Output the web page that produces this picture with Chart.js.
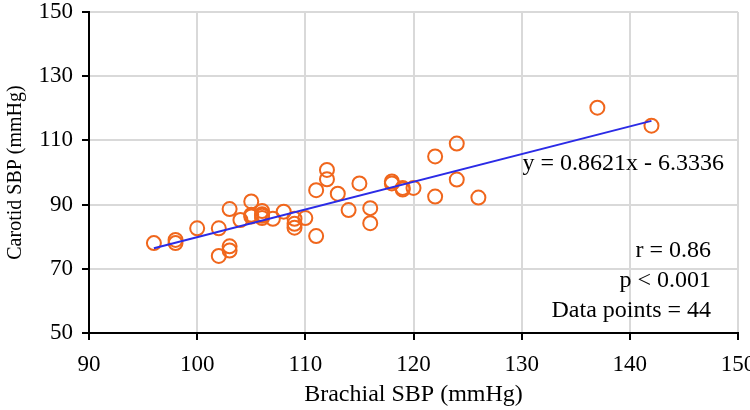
<!DOCTYPE html>
<html>
<head>
<meta charset="utf-8">
<script src="https://cdn.jsdelivr.net/npm/chart.js@4/dist/chart.umd.min.js"></script>
<style>
  html, body { margin: 0; padding: 0; background: #fff; }
  #wrap { width: 750px; height: 410px; }
</style>
</head>
<body>
<div id="wrap"><canvas id="scatterChart" width="750" height="410"></canvas></div>
<script>
// brachial (x) vs carotid (y) systolic pressure
var brachial = [96, 98, 98, 100, 102, 102, 103, 103, 103, 104,
                105, 105, 105, 106, 106, 106, 106, 107, 108, 109,
                109, 109, 110, 111, 111, 112, 112, 113, 114, 115,
                116, 116, 118, 118, 119, 119, 120, 122, 122, 124,
                124, 126, 137, 142];
var carotid = [78, 79, 78, 82.6, 82.6, 74, 77, 75.7, 88.6, 85.2,
               91, 86.3, 86.8, 88, 87, 85.8, 86.5, 85.6, 87.8, 85.6,
               84, 82.8, 85.8, 80.2, 94.5, 100.8, 97.9, 93.4, 88.3, 96.6,
               88.9, 84.2, 97.2, 96.6, 95.2, 94.7, 95.2, 105, 92.5, 109,
               97.8, 92.2, 120.2, 114.6];

// trend line y = 0.8621x - 6.3336 over the data range
var slope = 0.8621;
var intercept = -6.3336;
var trendX = [96, 142];

var xTicks = [90, 100, 110, 120, 130, 140, 150];
var yTicks = [50, 70, 90, 110, 130, 150];

var statsLines = ['r = 0.86', 'p < 0.001', 'Data points = 44'];
var equationText = 'y = 0.8621x - 6.3336';

var points = brachial.map(function (x, i) { return { x: x, y: carotid[i] }; });
var trend = trendX.map(function (x) { return { x: x, y: slope * x + intercept }; });

var serif = '"Liberation Serif", "Times New Roman", serif';

// writes the equation and the stats block inside the plot
var notesPlugin = {
    id: 'notes',
    afterDraw: function (chart) {
        var c = chart.ctx;
        var area = chart.chartArea;
        c.save();
        c.fillStyle = '#000';
        c.font = '24px ' + serif;
        c.textAlign = 'right';
        c.textBaseline = 'middle';
        c.fillText(equationText, area.right - 14, area.top + 152);
        for (var i = 0; i < statsLines.length; i++) {
            c.fillText(statsLines[i], area.right - 27, area.top + 239 + i * 29.7);
        }
        c.restore();
    }
};

var ctx = document.getElementById('scatterChart').getContext('2d');
var chart = new Chart(ctx, {
    type: 'scatter',
    data: {
        datasets: [
            {
                label: 'trend',
                data: trend,
                type: 'line',
                showLine: true,
                borderColor: '#2b2be6',
                borderWidth: 2,
                pointRadius: 0,
                fill: false
            },
            {
                label: 'points',
                data: points,
                pointStyle: 'circle',
                pointRadius: 7,
                pointHoverRadius: 7,
                borderWidth: 2,
                borderColor: '#f0661c',
                backgroundColor: 'rgba(0,0,0,0)'
            }
        ]
    },
    options: {
        responsive: false,
        animation: false,
        layout: { padding: { top: 12, right: 12, left: 0, bottom: 0 } },
        plugins: { legend: { display: false }, tooltip: { enabled: false } },
        scales: {
            x: {
                type: 'linear',
                min: 90,
                max: 150,
                afterBuildTicks: function (axis) {
                    axis.ticks = xTicks.map(function (v) { return { value: v }; });
                },
                afterFit: function (axis) {
                    axis.height = 77;
                    axis.paddingLeft = 0;
                    axis.paddingRight = 0;
                },
                grid: { color: '#d9d9d9', lineWidth: 2, tickColor: '#000', tickLength: 7 },
                border: { color: '#000', width: 2 },
                ticks: { color: '#000', font: { family: serif, size: 23 }, padding: 11, maxRotation: 0 },
                title: {
                    display: true,
                    text: 'Brachial SBP (mmHg)',
                    color: '#000',
                    font: { family: serif, size: 24 },
                    padding: { top: 1, bottom: 1 }
                }
            },
            y: {
                type: 'linear',
                min: 50,
                max: 150,
                afterBuildTicks: function (axis) {
                    axis.ticks = yTicks.map(function (v) { return { value: v }; });
                },
                afterFit: function (axis) {
                    axis.width = 89;
                    axis.paddingTop = 0;
                    axis.paddingBottom = 0;
                },
                grid: { color: '#d9d9d9', lineWidth: 2, tickColor: '#000', tickLength: 7 },
                border: { color: '#000', width: 2 },
                ticks: { color: '#000', font: { family: serif, size: 23 }, padding: 9 },
                title: {
                    display: true,
                    text: 'Carotid SBP (mmHg)',
                    color: '#000',
                    font: { family: serif, size: 20 },
                    padding: { top: 4, bottom: 4 }
                }
            }
        }
    },
    plugins: [notesPlugin]
});
</script>
</body>
</html>
